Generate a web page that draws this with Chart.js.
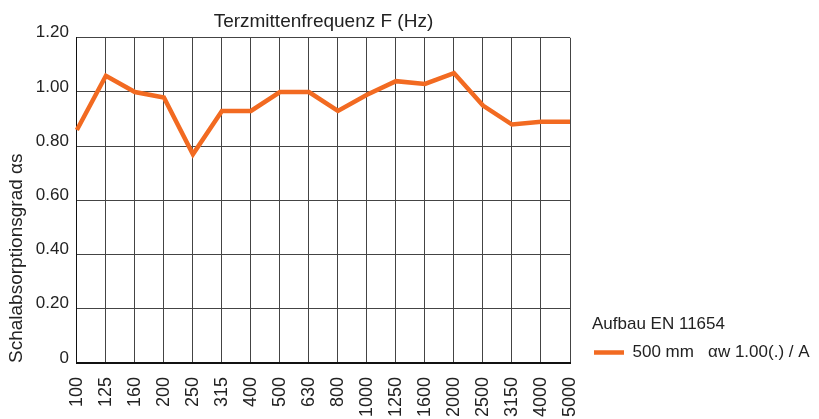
<!DOCTYPE html>
<html>
<head>
<meta charset="utf-8">
<script src="https://cdn.jsdelivr.net/npm/chart.js@4"></script>
<style>
  html, body { margin: 0; padding: 0; background: #fff; }
  #wrap { width: 819px; height: 419px; }
</style>
</head>
<body>
<div id="wrap"><canvas id="absChart" width="819" height="419"></canvas></div>
<script>
// Terzmittenfrequenzen (Hz)
const frequencies = ['100', '125', '160', '200', '250', '315', '400', '500', '630', '800',
  '1000', '1250', '1600', '2000', '2500', '3150', '4000', '5000'];
// Schalabsorptionsgrad alpha s
const alphaValues = [0.86, 1.06, 1.00, 0.98, 0.77, 0.93, 0.93, 1.00, 1.00, 0.93,
  0.99, 1.04, 1.03, 1.07, 0.95, 0.88, 0.89, 0.89];
const yTicks = [0, 0.2, 0.4, 0.6, 0.8, 1.0, 1.2];
const seriesLabel = '500 mm   \u03B1w 1.00(.) / A';
const legendTitle = 'Aufbau EN 11654';

const font = "'Liberation Sans', Arial, sans-serif";
const gridColor = '#444';
const textColor = '#222';

// legend sits right of the plot and may use the rest of the width
const legendSpace = {
  id: 'legendSpace',
  afterLayout(chart) {
    const lg = chart.legend;
    lg.left = chart.chartArea.right + 22;
    lg.right = chart.width;
    lg.width = lg.right - lg.left;
  }
};

const config = {
  type: 'line',
  data: {
    labels: frequencies,
    datasets: [{
      label: seriesLabel,
      data: alphaValues,
      borderColor: '#F26A21',
      backgroundColor: '#F26A21',
      borderWidth: 4.5,
      pointRadius: 0,
      tension: 0
    }]
  },
  plugins: [legendSpace],
  options: {
    responsive: false,
    animation: false,
    layout: { padding: { top: 0, right: 209, left: 0, bottom: 0 } },
    plugins: {
      title: {
        display: true,
        text: 'Terzmittenfrequenz F (Hz)',
        fullSize: false,
        color: textColor,
        font: { family: font, size: 19, weight: 'normal' },
        padding: { top: 10, bottom: 5 }
      },
      legend: {
        position: 'right',
        align: 'end',
        fullSize: false,
        maxWidth: 40,
        title: {
          display: true,
          text: legendTitle,
          position: 'start',
          color: textColor,
          font: { family: font, size: 17 },
          padding: { top: 0, bottom: 6 }
        },
        labels: {
          color: textColor,
          font: { family: font, size: 17 },
          usePointStyle: true,
          pointStyle: 'line',
          pointStyleWidth: 30,
          padding: 2
        }
      },
      tooltip: { enabled: false }
    },
    scales: {
      x: {
        offset: false,
        grid: { color: gridColor, lineWidth: 1, drawTicks: false },
        border: { color: '#111', width: 2 },
        ticks: {
          color: textColor,
          font: { family: font, size: 18 },
          minRotation: 90,
          maxRotation: 90,
          autoSkip: false,
          padding: 14
        },
        afterFit: (axis) => { axis.height = 56; }
      },
      y: {
        min: 0,
        max: 1.2,
        afterBuildTicks: (axis) => { axis.ticks = yTicks.map(v => ({ value: v })); },
        grid: { color: gridColor, lineWidth: 1, drawTicks: false },
        border: { color: '#111', width: 1 },
        title: {
          display: true,
          text: 'Schalabsorptionsgrad \u03B1s',
          align: 'start',
          color: textColor,
          font: { family: font, size: 19 },
          padding: { top: 5, bottom: 0 }
        },
        ticks: {
          color: textColor,
          font: { family: font, size: 17 },
          padding: 8,
          labelOffset: -5,
          callback: (v) => v === 0 ? '0' : Number(v).toFixed(2)
        }
      }
    }
  }
};

const ctx = document.getElementById('absChart').getContext('2d');
new Chart(ctx, config);
</script>
</body>
</html>
